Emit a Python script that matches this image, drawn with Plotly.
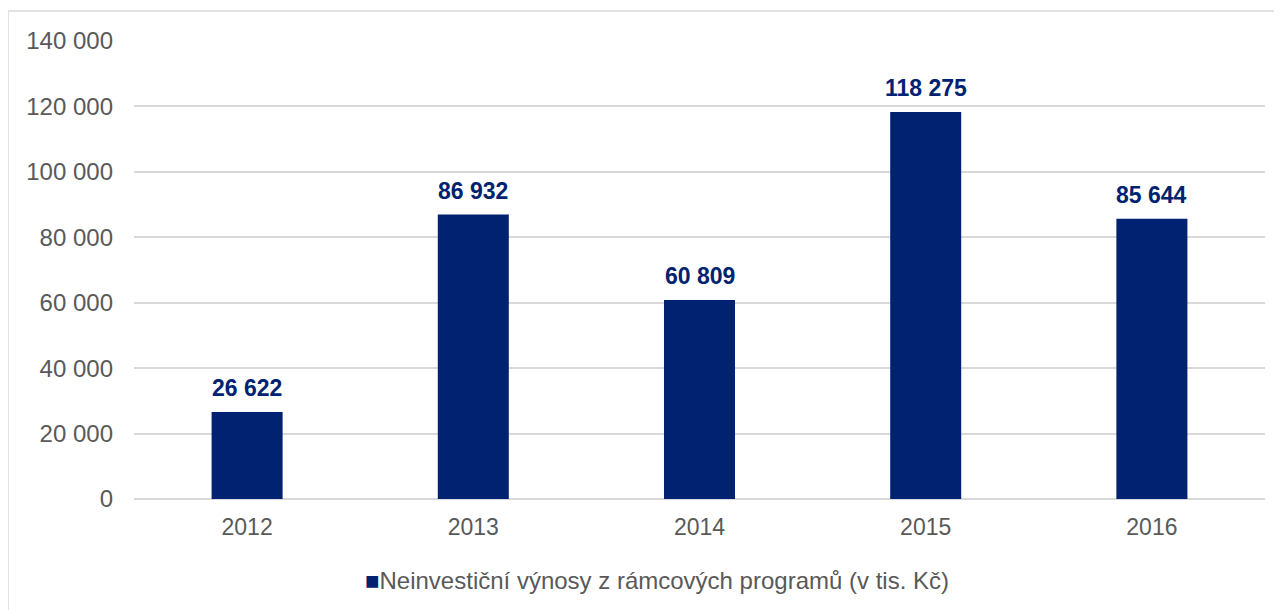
import plotly.graph_objects as go

# data
years = ["2012", "2013", "2014", "2015", "2016"]
values = [26622, 86932, 60809, 118275, 85644]
series_name = "Neinvestiční výnosy z rámcových programů (v tis. Kč)"

NAVY = "#002270"
GRAY = "#595959"
GRID = "#d9d9d9"
FONT = "Liberation Sans, Arial, sans-serif"

fig = go.Figure()
fig.add_trace(go.Bar(
    x=years, y=values, name=series_name,
    marker=dict(color=NAVY, line=dict(width=0)),
    showlegend=False,
))

# value labels above the bars (a little higher than plotly's default pad)
# on a category axis a numeric x is the category index
for i, v in enumerate(values):
    fig.add_annotation(
        x=i, y=v, yanchor="bottom", yshift=9, showarrow=False,
        text=f"<b>{v:,d}</b>".replace(",", " "),
        font=dict(color=NAVY, size=23, family=FONT),
    )

# outer frame like the excel chart area
fig.add_shape(type="rect", xref="paper", yref="paper",
              x0=-0.1114, x1=1.0124, y0=-0.30, y1=1.0655,
              line=dict(color=GRID, width=1.5), fillcolor="rgba(0,0,0,0)")

# legend drawn as text so the key sits right next to the label
fig.add_annotation(
    xref="paper", yref="paper", x=0.462, y=-0.177,
    xanchor="center", yanchor="middle", showarrow=False,
    text=f"<span style='color:{NAVY}'>■</span>{series_name}",
    font=dict(size=24, color=GRAY, family=FONT),
)

fig.update_layout(
    width=1282, height=610,
    margin=dict(l=126, r=25, t=33, b=119),
    paper_bgcolor="white", plot_bgcolor="white",
    separators=", ",
    font=dict(family=FONT, color=GRAY, size=23),
    bargap=0.686,
    showlegend=False,
    xaxis=dict(type="category", showline=False, ticks="", ticklabelstandoff=12,
               tickfont=dict(size=23, color=GRAY)),
    yaxis=dict(range=[0, 140000], dtick=20000, tickformat=",d",
               gridcolor=GRID, gridwidth=1.5, zeroline=True,
               zerolinecolor=GRID, zerolinewidth=1.5,
               ticks="", ticklabelstandoff=20,
               tickfont=dict(size=24, color=GRAY)),
)

fig.write_html("out.html")
